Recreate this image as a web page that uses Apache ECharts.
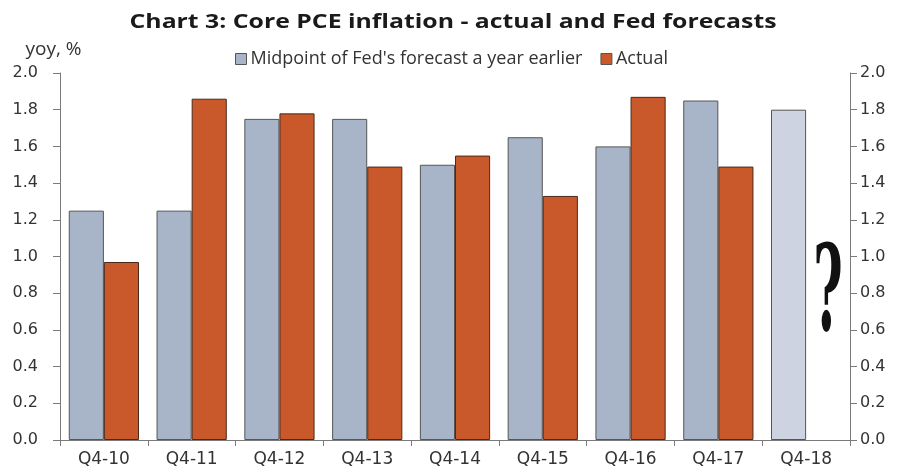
<!DOCTYPE html>
<html>
<head>
<meta charset="utf-8">
<script src="https://cdn.jsdelivr.net/npm/echarts@6/dist/echarts.min.js"></script>
<style>
  html, body { margin: 0; padding: 0; background: #fff; }
  #chart { width: 901px; height: 476px; }
</style>
</head>
<body>
<div id="chart"></div>
<script>
// Core PCE inflation (yoy, %): Fed's year-ahead midpoint forecast vs actual
const quarters = ['Q4-10', 'Q4-11', 'Q4-12', 'Q4-13', 'Q4-14', 'Q4-15', 'Q4-16', 'Q4-17', 'Q4-18'];
const fedForecast = [1.25, 1.25, 1.75, 1.75, 1.50, 1.65, 1.60, 1.85, 1.80];
const actual = [0.97, 1.86, 1.78, 1.49, 1.55, 1.33, 1.87, 1.49, null];
const yTicks = [0.0, 0.2, 0.4, 0.6, 0.8, 1.0, 1.2, 1.4, 1.6, 1.8, 2.0];

const FORECAST_NAME = "Midpoint of Fed's forecast a year earlier";
const ACTUAL_NAME = 'Actual';
const FORECAST_COLOR = '#A8B5C8';
const FORECAST_PENDING_COLOR = '#CDD3E0';
const ACTUAL_COLOR = '#C9582B';
const TEXT_FONT = '"Open Sans", "Noto Sans", sans-serif';
const NUM_FONT = '"DejaVu Sans", sans-serif';
const AXIS_COLOR = '#7a7a7a';

// The latest forecast has no outcome yet, so it is drawn in a paler shade
const forecastData = fedForecast.map((v, i) =>
  actual[i] == null ? { value: v, itemStyle: { color: FORECAST_PENDING_COLOR } } : v
);

function valueAxis(position, labelMargin) {
  return {
    type: 'value',
    position: position,
    min: yTicks[0],
    max: yTicks[yTicks.length - 1],
    interval: 0.2,
    axisLine: { show: true, lineStyle: { color: AXIS_COLOR, width: 1 } },
    axisTick: { show: true, length: 7, lineStyle: { color: AXIS_COLOR } },
    splitLine: { show: false },
    axisLabel: {
      color: '#333', fontSize: 16, fontFamily: NUM_FONT, margin: labelMargin,
      formatter: v => v.toFixed(1)
    }
  };
}

const chart = echarts.init(document.getElementById('chart'), null, { renderer: 'canvas' });
chart.setOption({
  animation: false,
  backgroundColor: '#fff',
  legend: {
    top: 45, left: 230,
    itemWidth: 11, itemHeight: 11, itemGap: 18,
    icon: 'rect',
    textStyle: { fontFamily: TEXT_FONT, fontSize: 18, color: '#333', padding: [0, 0, 0, -1] },
    data: [
      { name: FORECAST_NAME, itemStyle: { color: FORECAST_COLOR, borderColor: '#555', borderWidth: 1 } },
      { name: ACTUAL_NAME, itemStyle: { color: ACTUAL_COLOR, borderColor: '#555', borderWidth: 1 } }
    ]
  },
  grid: { left: 60, right: 51, top: 73, bottom: 36, containLabel: false },
  xAxis: {
    type: 'category',
    data: quarters,
    axisLine: { show: true, lineStyle: { color: AXIS_COLOR, width: 1 } },
    axisTick: { show: true, length: 6, lineStyle: { color: AXIS_COLOR } },
    axisLabel: { color: '#333', fontSize: 17, fontFamily: NUM_FONT, margin: 11 }
  },
  yAxis: [
    Object.assign(valueAxis('left', 22), {
      name: 'yoy, %', nameLocation: 'end', nameGap: 14,
      nameTextStyle: { color: '#333', fontSize: 19, fontFamily: TEXT_FONT, align: 'center', padding: [0, 0, 0, -13] }
    }),
    valueAxis('right', 10)
  ],
  series: [
    {
      name: FORECAST_NAME,
      type: 'bar',
      data: forecastData,
      barGap: '0%',
      barCategoryGap: '20%',
      itemStyle: { color: FORECAST_COLOR, borderColor: '#555', borderWidth: 1 }
    },
    {
      name: ACTUAL_NAME,
      type: 'bar',
      data: actual,
      itemStyle: { color: ACTUAL_COLOR, borderColor: '#4a2a1a', borderWidth: 1 }
    }
  ],
  graphic: [
    {
      // chart title, widened to the condensed-bold look of the heading
      type: 'text',
      x: 453, y: 22,
      scaleX: 1.24,
      style: {
        text: 'Chart 3: Core PCE inflation - actual and Fed forecasts',
        font: 'bold 20px "Open Sans", sans-serif',
        fill: '#1a1a1a',
        textAlign: 'center',
        textVerticalAlign: 'middle'
      }
    },
    {
      // open question over the year still to come
      type: 'text',
      x: 828, y: 299,
      scaleX: 0.42,
      style: {
        text: '?',
        font: 'bold 120px "DejaVu Serif", serif',
        fill: '#111',
        textAlign: 'center',
        textVerticalAlign: 'middle'
      }
    }
  ]
});
</script>
</body>
</html>
